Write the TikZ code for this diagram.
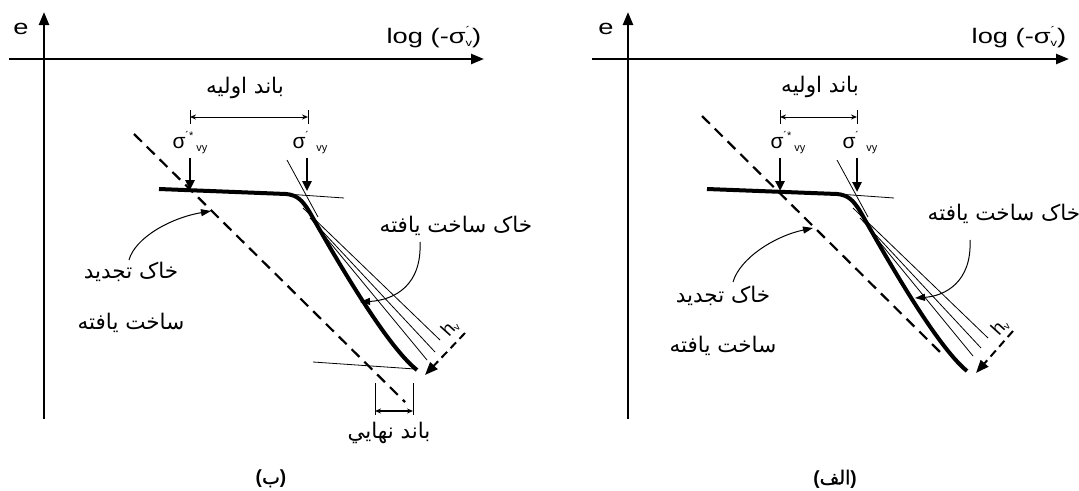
\documentclass[tikz,border=0pt]{standalone}
\usepackage{fontspec}
\setmainfont{Liberation Sans}
\newfontfamily\widesans[FakeStretch=1.3]{Liberation Sans}
\newfontfamily\arabicfont[Script=Arabic]{DejaVu Sans}
\newfontfamily\arabicbold[Script=Arabic,FakeBold=1.2]{DejaVu Sans}
\TeXXeTstate=1
\usetikzlibrary{arrows.meta}
\newcommand{\fa}[1]{{\arabicfont\beginR #1\endR}}
\newcommand{\fab}[1]{{\arabicbold\beginR #1\endR}}
\newcommand{\sigv}{σ\makebox[0pt][l]{\raisebox{9pt}{\fontsize{11}{11}\selectfont ´}}\raisebox{-3pt}{\fontsize{10}{10}\selectfont v}}
\newcommand{\sigvy}[1]{σ\makebox[0pt][l]{\raisebox{9pt}{\fontsize{11}{11}\selectfont #1}}\hspace{11pt}\raisebox{-3pt}{\fontsize{11}{11}\selectfont vy}}
\begin{document}
\begin{tikzpicture}[x=1pt,y=-1pt,
  every node/.style={inner sep=0pt,outer sep=0pt},
  axis/.style={line width=2.4pt,-{Triangle[length=13pt,width=10pt]}},
  heavy/.style={line width=4pt,line join=round},
  thinln/.style={line width=0.8pt},
  dashln/.style={line width=2.2pt,dash pattern=on 11pt off 7pt},
  hvarrow/.style={line width=2pt,dash pattern=on 8pt off 5pt,-{Triangle[length=13pt,width=10pt]}},
  down/.style={line width=2.4pt,-{Triangle[length=10pt,width=9pt]}},
  callout/.style={line width=1pt,-{Triangle[length=10pt,width=7pt]}},
  dim/.style={line width=1pt,{Stealth[length=6pt,width=5pt]}-{Stealth[length=6pt,width=5pt]}},
  tickln/.style={line width=0.8pt},
  lat/.style={font=\widesans\fontsize{21}{21}\selectfont},
  sig/.style={font=\fontsize{21}{21}\selectfont},
  hv/.style={font=\fontsize{19}{19}\selectfont,rotate=48},
  falab/.style={font=\fontsize{21.5}{24}\selectfont},
  captxt/.style={font=\fontsize{19}{22}\selectfont}
]
\useasboundingbox (0,0) rectangle (1079,490);
\fill[white] (0,0) rectangle (1079,490);

%================ LEFT PANEL ================
\coordinate (LO) at (44,419);
\coordinate (LY) at (44,12);
\coordinate (LX0) at (9,59);
\coordinate (LX1) at (484,59);
\draw[axis] (LO) -- (LY);
\draw[axis] (LX0) -- (LX1);
\node[lat] (Le) at (21,29) {e};
\node[lat] (Llog) at (434,37) {log (-\sigv)};

\node[falab] (Lband) at (245,88) {\fa{باند اولیه}};
\coordinate (LB1) at (190,117);
\coordinate (LB2) at (308,117);
\coordinate (LB1t) at (190,110);
\coordinate (LB1b) at (190,124);
\coordinate (LB2t) at (308,110);
\coordinate (LB2b) at (308,124);
\draw[tickln] (LB1t) -- (LB1b);
\draw[tickln] (LB2t) -- (LB2b);
\draw[dim] (LB1) -- (LB2);

\node[sig] (Ls2) at (190,143) {\sigvy{´*}};
\node[sig] (Ls1) at (310,143) {\sigvy{´}};
\coordinate (LA1) at (190,158);
\coordinate (LA1e) at (190,190);
\coordinate (LA2) at (307,158);
\coordinate (LA2e) at (307,191);
\draw[down] (LA1) -- (LA1e);
\draw[down] (LA2) -- (LA2e);

\coordinate (LD0) at (134,134);
\coordinate (LD1) at (405,402);
\draw[dashln] (LD0) -- (LD1);

\coordinate (LC0) at (159,189);
\coordinate (LC1) at (286,194);
\coordinate (LC2) at (309,211);
\coordinate (LC3) at (417,370);
\draw[heavy] (LC0) -- (LC1) .. controls (297,195) and (302,200) .. (LC2) .. controls (330,248) and (385,345) .. (LC3);

\coordinate (LT1a) at (286,194);
\coordinate (LT1b) at (344,198);
\coordinate (LT2a) at (287,160);
\coordinate (LT2b) at (318,217);
\draw[thinln] (LT1a) -- (LT1b);
\draw[thinln] (LT2a) -- (LT2b);
\coordinate (LF1a) at (303,208);
\coordinate (LF1b) at (440,340);
\coordinate (LF2a) at (310,218);
\coordinate (LF2b) at (435,352);
\coordinate (LF3a) at (318,228);
\coordinate (LF3b) at (427,360);
\draw[thinln] (LF1a) -- (LF1b);
\draw[thinln] (LF2a) -- (LF2b);
\draw[thinln] (LF3a) -- (LF3b);

\coordinate (LH0) at (465,333);
\coordinate (LH1) at (425,375);
\draw[hvarrow] (LH0) -- (LH1);
\node[hv] (Lhv) at (450,328) {h\raisebox{-2pt}{\fontsize{10}{10}\selectfont v}};

\coordinate (LE0) at (313,362);
\coordinate (LE1) at (415,369);
\draw[thinln] (LE0) -- (LE1);
\coordinate (LK1t) at (375,383);
\coordinate (LK1b) at (375,415);
\coordinate (LK2t) at (413,383);
\coordinate (LK2b) at (413,415);
\coordinate (LK1) at (375,411);
\coordinate (LK2) at (413,411);
\draw[tickln] (LK1t) -- (LK1b);
\draw[tickln] (LK2t) -- (LK2b);
\draw[dim,line width=1.3pt] (LK1) -- (LK2);
\node[falab] (Lfinal) at (389,433) {\fa{باند نهايي}};

\node[falab] (Lstruct) at (456,226) {\fa{خاک ساخت یافته}};
\coordinate (LS0) at (420,242);
\coordinate (LS1) at (360,302);
\draw[callout] (LS0) .. controls (422,285) and (395,300) .. (LS1);

\node[falab] (Lre1) at (131,272) {\fa{خاک تجدید}};
\node[falab] (Lre2) at (131,323) {\fa{ساخت یافته}};
\coordinate (LR0) at (129,260);
\coordinate (LR1) at (211,211);
\draw[callout] (LR0) .. controls (135,238) and (170,218) .. (LR1);

\node[captxt] (Lcap) at (271,479) {\textbf{(}\fab{ب}\textbf{)}};

%================ RIGHT PANEL ================
\coordinate (RO) at (628,419);
\coordinate (RY) at (628,12);
\coordinate (RX0) at (592,59);
\coordinate (RX1) at (1069,59);
\draw[axis] (RO) -- (RY);
\draw[axis] (RX0) -- (RX1);
\node[lat] (Re) at (606,29) {e};
\node[lat] (Rlog) at (1019,37) {log (-\sigv)};

\node[falab] (Rband) at (820,87) {\fa{باند اولیه}};
\coordinate (RB1) at (780,117);
\coordinate (RB2) at (857,117);
\coordinate (RB1t) at (780,110);
\coordinate (RB1b) at (780,124);
\coordinate (RB2t) at (857,110);
\coordinate (RB2b) at (857,124);
\draw[tickln] (RB1t) -- (RB1b);
\draw[tickln] (RB2t) -- (RB2b);
\draw[dim] (RB1) -- (RB2);

\node[sig] (Rs2) at (788,143) {\sigvy{´*}};
\node[sig] (Rs1) at (860,143) {\sigvy{´}};
\coordinate (RA1) at (780,158);
\coordinate (RA1e) at (780,191);
\coordinate (RA2) at (857,158);
\coordinate (RA2e) at (857,192);
\draw[down] (RA1) -- (RA1e);
\draw[down] (RA2) -- (RA2e);

\coordinate (RD0) at (702,116);
\coordinate (RD1) at (940,352);
\draw[dashln] (RD0) -- (RD1);

\coordinate (RC0) at (707,189);
\coordinate (RC1) at (837,194);
\coordinate (RC2) at (860,211);
\coordinate (RC3) at (967,371);
\draw[heavy] (RC0) -- (RC1) .. controls (848,195) and (853,200) .. (RC2) .. controls (881,248) and (935,345) .. (RC3);

\coordinate (RT1a) at (838,194);
\coordinate (RT1b) at (894,198);
\coordinate (RT2a) at (837,160);
\coordinate (RT2b) at (868,217);
\draw[thinln] (RT1a) -- (RT1b);
\draw[thinln] (RT2a) -- (RT2b);
\coordinate (RF1a) at (853,208);
\coordinate (RF1b) at (988,338);
\coordinate (RF2a) at (860,218);
\coordinate (RF2b) at (981,348);
\coordinate (RF3a) at (868,228);
\coordinate (RF3b) at (973,356);
\draw[thinln] (RF1a) -- (RF1b);
\draw[thinln] (RF2a) -- (RF2b);
\draw[thinln] (RF3a) -- (RF3b);

\coordinate (RH0) at (1013,331);
\coordinate (RH1) at (976,373);
\draw[hvarrow] (RH0) -- (RH1);
\node[hv] (Rhv) at (1000,327) {h\raisebox{-2pt}{\fontsize{10}{10}\selectfont v}};

\node[falab] (Rstruct) at (1004,214) {\fa{خاک ساخت یافته}};
\coordinate (RS0) at (970,240);
\coordinate (RS1) at (915,298);
\draw[callout] (RS0) .. controls (972,282) and (945,296) .. (RS1);

\node[falab] (Rre1) at (723,296) {\fa{خاک تجدید}};
\node[falab] (Rre2) at (723,346) {\fa{ساخت یافته}};
\coordinate (RR0) at (733,282);
\coordinate (RR1) at (813,228);
\draw[callout] (RR0) .. controls (740,258) and (775,236) .. (RR1);

\node[captxt] (Rcap) at (835,479) {\textbf{(}\fab{الف}\textbf{)}};
\end{tikzpicture}
\end{document}
